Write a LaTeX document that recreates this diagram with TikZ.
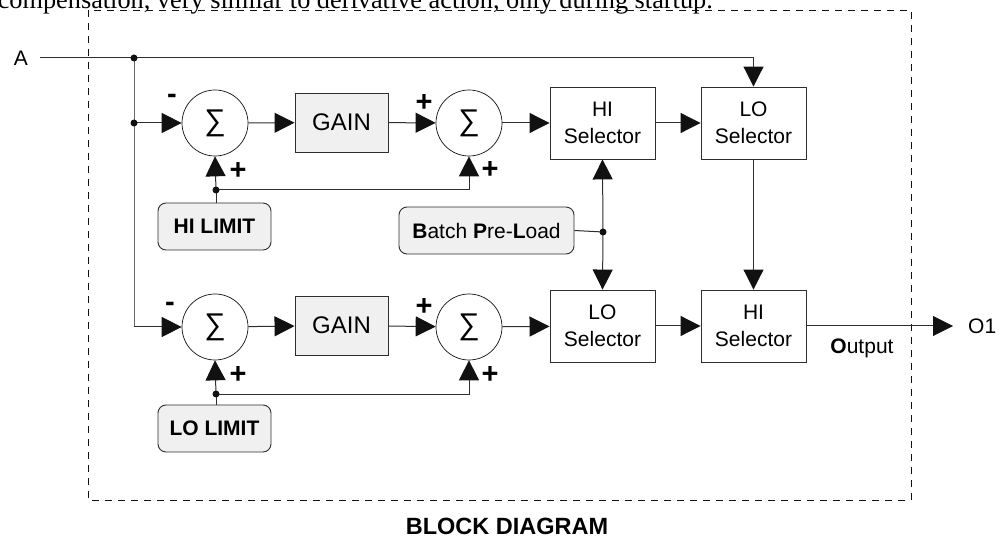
\documentclass[tikz,border=0pt]{standalone}
\usepackage{fontspec}
\setmainfont{Liberation Sans}
\newfontfamily\noteserif{Liberation Serif}
\usetikzlibrary{arrows.meta,positioning,calc}
\definecolor{ink}    {HTML}{111111}
\definecolor{wire}   {HTML}{2E2E2E}
\definecolor{bus}    {HTML}{6A6A6A}
\definecolor{panel}  {HTML}{F0F0F0}

\tikzset{
  sumnode/.style={circle,draw=ink,line width=0.7pt,minimum size=66pt,inner sep=0pt,
    font=\fontsize{30}{30}\selectfont},
  gainbox/.style={draw=wire,fill=panel,line width=0.9pt,minimum width=93pt,minimum height=59pt,
    font=\fontsize{24}{27}\selectfont},
  selbox/.style={draw=wire,line width=0.9pt,minimum width=105pt,minimum height=72pt,align=center,
    font=\fontsize{21}{27}\selectfont},
  limbox/.style={draw=wire,fill=panel,line width=0.9pt,rounded corners=8pt,minimum height=47pt},
  sign/.style={font=\bfseries\fontsize{29}{29}\selectfont,inner sep=0pt},
  wireline/.style={draw=wire,line width=1pt},
  flow/.style={wireline,-{Triangle[length=20pt,width=20pt,fill=ink,color=ink]}},
}

\begin{document}
\begin{tikzpicture}[x=1pt,y=-1pt,font=\fontsize{21}{27}\selectfont]
  \clip (0,0) rectangle (999,537);
  % note line cut at the top
  \node[font=\noteserif\fontsize{26.3}{28}\selectfont,anchor=base east,inner sep=0pt] (note)
    at (713,9) {compensation, very similar to derivative action, only during startup.};
  \draw[ink,line width=0.8pt,dash pattern=on 7pt off 6pt] (88,10) rectangle (911,500);

  % upper chain
  \node[sumnode] (sumA1) at (215,123) {∑};
  \node[gainbox] (gainA) at (341.5,122.5) {GAIN};
  \node[sumnode] (sumA2) at (469,123) {∑};
  \node[selbox]  (hisel) at (602.5,123) {HI\\Selector};
  \node[selbox]  (losel) at (753.5,123) {LO\\Selector};
  \node[limbox,minimum width=113pt,font=\bfseries\fontsize{21}{27}\selectfont] (hilim) at (214.5,226.5) {HI LIMIT};

  % lower chain
  \node[sumnode] (sumB1) at (215,327) {∑};
  \node[gainbox] (gainB) at (341.5,325.5) {GAIN};
  \node[sumnode] (sumB2) at (469,327) {∑};
  \node[selbox]  (losel2) at (602.5,326) {LO\\Selector};
  \node[selbox]  (hisel2) at (753.5,326) {HI\\Selector};
  \node[limbox,minimum width=113pt,font=\bfseries\fontsize{21}{27}\selectfont] (lolim) at (214.5,428.5) {LO LIMIT};

  \node[limbox,minimum width=175pt] (batch) at (486.5,230.5) {\textbf{B}atch \textbf{P}re-\textbf{L}oad};

  % signs
  \node[sign] (mA1) at (172,99) {-};
  \node[sign] (pA1) at (238,171) {+};
  \node[sign] (pA2) at (424,103) {+};
  \node[sign] (qA2) at (490,170) {+};
  \node[sign] (mB1) at (170,307) {-};
  \node[sign] (pB1) at (238,375) {+};
  \node[sign] (pB2) at (424,307) {+};
  \node[sign] (qB2) at (490,375) {+};

  % terminals
  \node[anchor=east,inner xsep=12pt] (lblA) at (40,58) {A};
  \node[anchor=west,inner xsep=15pt] (lblO) at (953,326) {O1};
  \node (outtxt) at (862,348) {\textbf{O}utput};
  \node[font=\bfseries\fontsize{23.5}{24}\selectfont] (title) at (507,526) {BLOCK DIAGRAM};

  % junctions
  \coordinate (jA)  at (134,58);
  \coordinate (jA1) at (jA |- sumA1);
  \coordinate (jB1) at (jA |- sumB1);
  \coordinate (jH)  at (216,190);
  \coordinate (jL)  at (216,394);
  \coordinate (jP)  at (603,232);

  % wiring
  \draw[flow] (lblA.east) -- (losel |- lblA.east) -- (losel.north);
  \draw[wireline,draw=bus] (jA) -- (jB1);
  \draw[flow] (jA1) -- (sumA1);
  \draw[flow] (jB1) -- (sumB1);
  \draw[flow] (sumA1) -- (gainA);
  \draw[flow] (gainA) -- (sumA2);
  \draw[flow] (sumA2) -- (hisel);
  \draw[flow] (hisel) -- (losel);
  \draw[flow] (sumB1) -- (gainB);
  \draw[flow] (gainB) -- (sumB2);
  \draw[flow] (sumB2) -- (losel2);
  \draw[flow] (losel2) -- (hisel2);
  \draw[flow] (losel) -- (hisel2);
  \draw[flow] (hisel2) -- (lblO.west);

  \draw[wireline] (hilim.north -| jH) -- (jH);
  \draw[flow] (jH) -- (sumA1.south);
  \draw[flow] (jH) -| (sumA2.south);
  \draw[wireline] (lolim.north -| jL) -- (jL);
  \draw[flow] (jL) -- (sumB1.south);
  \draw[flow] (jL) -| (sumB2.south);

  \draw[wireline] (batch.east) -- (jP);
  \draw[flow] (jP) -- (hisel.south);
  \draw[flow] (jP) -- (losel2.north);

  \foreach \j in {jA,jA1,jH,jL,jP} {
    \fill[ink] (\j) circle (3.5pt);
  }
\end{tikzpicture}
\end{document}
